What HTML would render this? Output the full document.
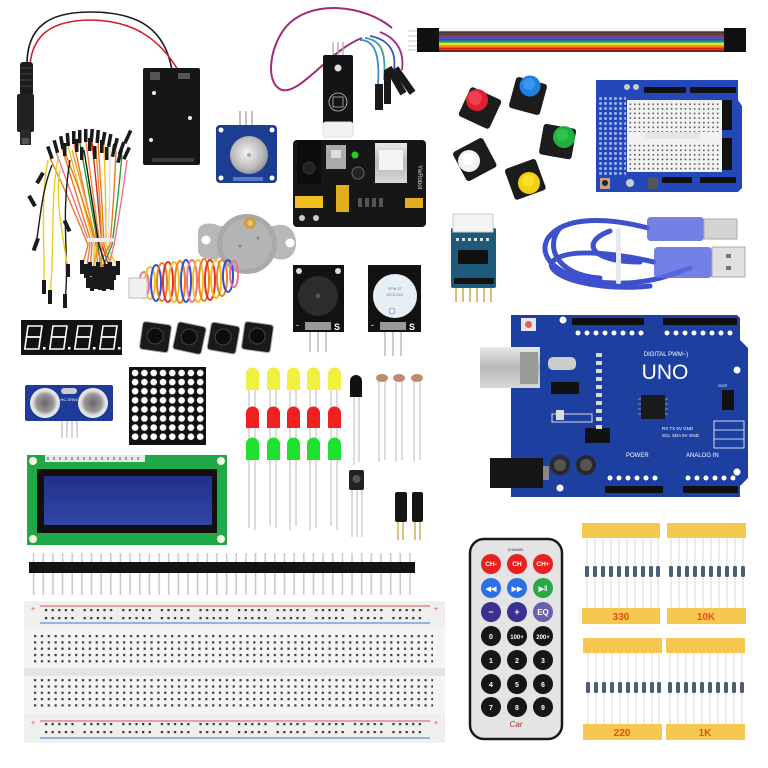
<!DOCTYPE html>
<html><head><meta charset="utf-8"><style>
html,body{margin:0;padding:0;background:#fff;}
svg{display:block;}
text{font-family:"Liberation Sans",sans-serif;}
</style></head><body>
<svg width="768" height="768" viewBox="0 0 768 768" xmlns="http://www.w3.org/2000/svg">
<defs>
  <pattern id="bbh" x="33" y="634" width="6.85" height="6.3" patternUnits="userSpaceOnUse"><rect x="1" y="1" width="2.2" height="2.2" fill="#3a3a3a"/></pattern>
  <pattern id="rail" x="45" y="609" width="38.6" height="8" patternUnits="userSpaceOnUse"><g fill="#333"><rect x="0" y="0" width="2.2" height="2.2"/><rect x="6.6" y="0" width="2.2" height="2.2"/><rect x="13.2" y="0" width="2.2" height="2.2"/><rect x="19.8" y="0" width="2.2" height="2.2"/><rect x="26.4" y="0" width="2.2" height="2.2"/></g></pattern>
  <pattern id="rail2" x="45" y="723" width="38.6" height="8" patternUnits="userSpaceOnUse"><g fill="#333"><rect x="0" y="0" width="2.2" height="2.2"/><rect x="6.6" y="0" width="2.2" height="2.2"/><rect x="13.2" y="0" width="2.2" height="2.2"/><rect x="19.8" y="0" width="2.2" height="2.2"/><rect x="26.4" y="0" width="2.2" height="2.2"/></g></pattern>
  <pattern id="mat" x="130.5" y="368.5" width="9.3" height="9.1" patternUnits="userSpaceOnUse"><circle cx="4.6" cy="4.5" r="3.3" fill="#fff"/></pattern>
  <pattern id="proto" x="628" y="102" width="4.6" height="4.6" patternUnits="userSpaceOnUse"><rect x="1.5" y="1.5" width="1.5" height="1.5" fill="#444"/></pattern>
  <pattern id="protob" x="598" y="96" width="5" height="5" patternUnits="userSpaceOnUse"><circle cx="2.5" cy="2.5" r="1.5" fill="#9fb4ee"/></pattern>
  <pattern id="pins" x="29" y="553" width="9.65" height="42" patternUnits="userSpaceOnUse"><rect x="3.8" y="0" width="1.6" height="42" fill="#c9c9c9"/></pattern>
  <radialGradient id="knob" cx="0.45" cy="0.45" r="0.6"><stop offset="0" stop-color="#f4f4f4"/><stop offset="0.7" stop-color="#b8b8b8"/><stop offset="1" stop-color="#8a8a8a"/></radialGradient>
  <radialGradient id="sonic" cx="0.5" cy="0.5" r="0.5"><stop offset="0" stop-color="#666"/><stop offset="0.6" stop-color="#9a9a9a"/><stop offset="0.8" stop-color="#ddd"/><stop offset="1" stop-color="#eee"/></radialGradient>
  <linearGradient id="lcd" x1="0" y1="0" x2="0" y2="1"><stop offset="0" stop-color="#22308a"/><stop offset="1" stop-color="#3246a6"/></linearGradient>
  <linearGradient id="silver" x1="0" y1="0" x2="0" y2="1"><stop offset="0" stop-color="#e8e8e8"/><stop offset="0.5" stop-color="#b8b8b8"/><stop offset="1" stop-color="#d8d8d8"/></linearGradient>
</defs>
<rect width="768" height="768" fill="#fff"/>

<!-- ===== Battery cable ===== -->
<path d="M27 62 C28 30 45 12 90 12 C140 12 165 30 172 70" fill="none" stroke="#1a1a1a" stroke-width="1.6"/>
<path d="M30 64 C33 36 50 20 92 20 C135 21 160 40 178 70" fill="none" stroke="#d02030" stroke-width="1.6"/>
<rect x="20" y="62" width="13" height="34" rx="3" fill="#1c1c1c"/>
<g stroke="#444" stroke-width="1"><line x1="20" y1="68" x2="33" y2="68"/><line x1="20" y1="74" x2="33" y2="74"/><line x1="20" y1="80" x2="33" y2="80"/><line x1="20" y1="86" x2="33" y2="86"/></g>
<rect x="17" y="94" width="17" height="38" rx="2" fill="#222"/>
<rect x="20" y="130" width="11" height="15" fill="#2a2a2a"/>
<rect x="22" y="138" width="7" height="6" fill="#555"/>
<!-- Battery box -->
<rect x="143" y="68" width="57" height="97" rx="2" fill="#161616"/>
<rect x="150" y="72" width="10" height="8" fill="#555"/>
<rect x="178" y="73" width="12" height="6" fill="#555"/>
<circle cx="154" cy="93" r="2" fill="#eee"/><circle cx="190" cy="118" r="2" fill="#eee"/><circle cx="151" cy="140" r="2" fill="#eee"/>
<rect x="152" y="158" width="42" height="4" fill="#3a3a3a"/>

<!-- ===== Jumper wire bundle ===== -->
<g fill="none" stroke-width="1.4">
<path d="M50 158 Q70 200 88 245 L82 268" stroke="#e87a1a"/>
<path d="M56 152 Q74 200 90 245 L86 272" stroke="#f07090"/>
<path d="M62 148 Q78 200 92 245 L90 270" stroke="#e87a1a"/>
<path d="M68 146 Q82 200 94 245 L94 274" stroke="#f0c020"/>
<path d="M74 144 Q86 200 96 245 L98 270" stroke="#e87a1a"/>
<path d="M80 143 Q90 200 98 245 L102 275" stroke="#2a9a3a"/>
<path d="M86 142 Q94 200 100 245 L106 272" stroke="#f08830"/>
<path d="M92 142 Q98 200 102 245 L110 270" stroke="#d03020"/>
<path d="M98 143 Q102 200 104 245 L114 274" stroke="#e87a1a"/>
<path d="M104 145 Q106 200 106 245 L118 268" stroke="#f0c020"/>
<path d="M110 148 Q110 200 108 245 L116 278" stroke="#ddd"/>
<path d="M116 151 Q114 200 110 245 L88 282" stroke="#e87a1a"/>
<path d="M122 155 Q118 200 112 245 L96 283" stroke="#2a9a3a"/>
<path d="M127 160 Q122 200 114 245 L104 284" stroke="#f07090"/>
<path d="M66 155 Q84 200 96 245 L108 285" stroke="#e87a1a"/>
<path d="M96 150 Q100 200 102 245 L100 285" stroke="#f08830"/>
<path d="M84 150 Q92 200 99 245 L112 285" stroke="#1a1a1a"/>
<path d="M72 150 Q86 200 97 245 L92 285" stroke="#f0a030"/>
<path d="M48 160 C40 200 45 250 44 285" stroke="#e8d020"/>
<path d="M58 158 C50 200 55 250 50 295" stroke="#e8d020"/>
<path d="M70 160 C60 220 70 260 65 300" stroke="#1a1a1a"/>
<path d="M52 165 C42 190 40 220 36 245" stroke="#1a1a1a"/>
<path d="M60 170 C55 200 62 230 68 270" stroke="#e8d020"/>
</g>
<g fill="#1a1a1a">
<rect x="48" y="146" width="3.5" height="13" transform="rotate(-20 50 152)"/>
<rect x="54" y="140" width="3.5" height="13" transform="rotate(-15 56 146)"/>
<rect x="60" y="136" width="3.5" height="13" transform="rotate(-10 62 142)"/>
<rect x="66" y="133" width="3.5" height="13" transform="rotate(-5 68 139)"/>
<rect x="72" y="131" width="3.5" height="13"/>
<rect x="78" y="130" width="3.5" height="13"/>
<rect x="84" y="129" width="3.5" height="13"/>
<rect x="90" y="129" width="3.5" height="13" transform="rotate(5 92 135)"/>
<rect x="96" y="130" width="3.5" height="13" transform="rotate(5 98 136)"/>
<rect x="102" y="132" width="3.5" height="13" transform="rotate(10 104 138)"/>
<rect x="108" y="134" width="3.5" height="13" transform="rotate(10 110 140)"/>
<rect x="114" y="138" width="3.5" height="13" transform="rotate(15 116 144)"/>
<rect x="120" y="142" width="3.5" height="13" transform="rotate(20 122 148)"/>
<rect x="125" y="147" width="3.5" height="13" transform="rotate(25 127 153)"/>
<rect x="63" y="143" width="3.5" height="13"/>
<rect x="75" y="139" width="3.5" height="13"/>
<rect x="88" y="138" width="3.5" height="13"/>
<rect x="100" y="140" width="3.5" height="13"/>
<rect x="112" y="144" width="3.5" height="13" transform="rotate(10 114 150)"/>
<rect x="118" y="150" width="3.5" height="13" transform="rotate(15 120 156)"/>
<rect x="105" y="147" width="3.5" height="13"/>
<rect x="93" y="146" width="3.5" height="13"/>
<rect x="80" y="147" width="3.5" height="13"/>
<rect x="126" y="130" width="3.5" height="14" transform="rotate(25 128 137)"/>
<rect x="80" y="260" width="4" height="14"/><rect x="84" y="264" width="4" height="14"/><rect x="88" y="262" width="4" height="14"/><rect x="92" y="266" width="4" height="14"/><rect x="96" y="262" width="4" height="14"/><rect x="100" y="267" width="4" height="14"/><rect x="104" y="264" width="4" height="14"/><rect x="108" y="262" width="4" height="14"/><rect x="112" y="266" width="4" height="14"/><rect x="116" y="261" width="4" height="14"/>
<rect x="86" y="274" width="4" height="14"/><rect x="94" y="275" width="4" height="14"/><rect x="98" y="276" width="4" height="14"/><rect x="102" y="277" width="4" height="14"/><rect x="106" y="275" width="4" height="14"/><rect x="110" y="276" width="4" height="14"/><rect x="90" y="277" width="4" height="14"/>
<rect x="42" y="280" width="4" height="14"/><rect x="48" y="290" width="4" height="14"/><rect x="63" y="294" width="4" height="14"/><rect x="34" y="238" width="4" height="13" transform="rotate(20 36 244)"/><rect x="66" y="264" width="4" height="13"/>
<rect x="38" y="172" width="4" height="12" transform="rotate(30 40 178)"/>
<rect x="65" y="220" width="4" height="12" transform="rotate(-25 67 226)"/>
<rect x="30" y="195" width="4" height="12" transform="rotate(-30 32 201)"/>
</g>
<rect x="87" y="238" width="27" height="4" fill="#f0f0f0"/>

<!-- ===== DHT sensor & wire ===== -->
<path d="M392 28 C365 5 310 -2 285 28 C268 50 266 85 282 90 C300 95 330 50 362 38" fill="none" stroke="#a02a78" stroke-width="2"/>
<path d="M360 40 C375 40 380 55 378 85" fill="none" stroke="#3a8ad0" stroke-width="1.8"/>
<path d="M365 38 C383 40 386 55 384 80" fill="none" stroke="#3aa090" stroke-width="1.8"/>
<path d="M370 36 C392 40 396 55 394 70" fill="none" stroke="#4050c0" stroke-width="1.8"/>
<path d="M380 32 C400 40 404 55 402 70" fill="none" stroke="#a02a78" stroke-width="1.8"/>
<g fill="#1a1a1a">
<rect x="375" y="84" width="8" height="26"/>
<rect x="384" y="70" width="7" height="34"/>
<rect x="392" y="66" width="7" height="30" transform="rotate(-30 395 80)"/>
<rect x="400" y="66" width="7" height="30" transform="rotate(-35 403 80)"/>
</g>
<g stroke="#aaa" stroke-width="1.3"><line x1="333" y1="42" x2="333" y2="56"/><line x1="338" y1="42" x2="338" y2="56"/><line x1="343" y1="42" x2="343" y2="56"/></g>
<rect x="323" y="55" width="30" height="69" rx="2" fill="#141414"/>
<circle cx="338" cy="68" r="3.5" fill="#ddd"/>
<circle cx="338" cy="102" r="9" fill="none" stroke="#ccc" stroke-width="0.8"/>
<rect x="333" y="97" width="10" height="10" fill="none" stroke="#bbb" stroke-width="0.8"/>
<rect x="323" y="122" width="30" height="15" rx="3" fill="#f2f2f2" stroke="#ddd"/>

<!-- ===== Potentiometer ===== -->
<g stroke="#aaa" stroke-width="1.5"><line x1="240" y1="111" x2="240" y2="128"/><line x1="246" y1="111" x2="246" y2="128"/><line x1="252" y1="111" x2="252" y2="128"/></g>
<rect x="216" y="125" width="61" height="58" rx="4" fill="#1c3d92"/>
<circle cx="221" cy="130" r="2.5" fill="#fff"/><circle cx="272" cy="130" r="2.5" fill="#fff"/><circle cx="221" cy="178" r="2.5" fill="#fff"/><circle cx="272" cy="178" r="2.5" fill="#fff"/>
<circle cx="249" cy="155" r="19" fill="url(#knob)"/>
<circle cx="249" cy="155" r="2" fill="#aaa"/>
<rect x="233" y="177" width="30" height="4" fill="#5a7ac8"/>

<!-- ===== Power supply module ===== -->
<rect x="293" y="140" width="133" height="87" rx="4" fill="#161616"/>
<rect x="297" y="140" width="24" height="44" fill="#0c0c0c"/>
<circle cx="309" cy="168" r="6" fill="#222" stroke="#333"/>
<rect x="326" y="145" width="20" height="24" fill="#aaa"/>
<rect x="331" y="150" width="10" height="8" fill="#ddd"/>
<circle cx="355" cy="155" r="3.5" fill="#2c2"/>
<circle cx="358" cy="173" r="6" fill="#222" stroke="#666"/>
<rect x="375" y="143" width="32" height="40" fill="url(#silver)"/>
<rect x="379" y="150" width="24" height="20" fill="#f4f4f4"/>
<rect x="295" y="196" width="28" height="12" fill="#f0c020"/>
<rect x="336" y="185" width="13" height="27" fill="#e0b020"/>
<rect x="405" y="198" width="18" height="10" fill="#e0b020"/>
<g fill="#555"><rect x="358" y="198" width="4" height="9"/><rect x="365" y="198" width="4" height="9"/><rect x="372" y="198" width="4" height="9"/><rect x="379" y="198" width="4" height="9"/></g>
<text x="418" y="165" font-size="6" fill="#ddd" transform="rotate(90 418 165)">YwRobot</text>
<circle cx="302" cy="218" r="3" fill="#ccc"/><circle cx="316" cy="218" r="3" fill="#ccc"/>

<!-- ===== Dupont ribbon ===== -->
<g>
<rect x="438" y="29" width="286" height="2.3" fill="#f4f4f4" stroke="#ddd" stroke-width="0.3"/>
<rect x="438" y="31.3" width="286" height="2.3" fill="#3a3a3a"/>
<rect x="438" y="33.6" width="286" height="2.3" fill="#6a3a1a"/>
<rect x="438" y="35.9" width="286" height="2.3" fill="#7a3aa0"/>
<rect x="438" y="38.2" width="286" height="2.3" fill="#2a4ad0"/>
<rect x="438" y="40.5" width="286" height="2.3" fill="#20a040"/>
<rect x="438" y="42.8" width="286" height="2.3" fill="#f0e020"/>
<rect x="438" y="45.1" width="286" height="2.3" fill="#f08a20"/>
<rect x="438" y="47.4" width="286" height="2.3" fill="#e02020"/>
<rect x="438" y="49.7" width="286" height="2.3" fill="#7a2a10"/>
<rect x="417" y="28" width="22" height="24" fill="#111"/>
<rect x="724" y="28" width="22" height="24" fill="#111"/>
<g stroke="#bbb" stroke-width="0.8"><line x1="408" y1="31" x2="417" y2="31"/><line x1="408" y1="36" x2="417" y2="36"/><line x1="408" y1="41" x2="417" y2="41"/><line x1="408" y1="46" x2="417" y2="46"/><line x1="408" y1="50" x2="417" y2="50"/></g>
</g>

<!-- ===== Button modules ===== -->
<g>
<rect x="463" y="92" width="34" height="32" rx="3" fill="#1c1c1c" transform="rotate(25 480 108)"/>
<circle cx="477" cy="100" r="11" fill="#e02030"/><circle cx="475" cy="98" r="7" fill="#f04050"/>
<rect x="512" y="80" width="32" height="32" rx="3" fill="#1c1c1c" transform="rotate(15 528 96)"/>
<circle cx="530" cy="86" r="10.5" fill="#2080e0"/><circle cx="529" cy="84" r="6" fill="#3a95f0"/>
<rect x="541" y="126" width="33" height="31" rx="3" fill="#1c1c1c" transform="rotate(10 557 142)"/>
<circle cx="564" cy="137" r="11" fill="#20b040"/><circle cx="562" cy="135" r="6" fill="#30c050"/>
<rect x="458" y="143" width="34" height="33" rx="3" fill="#1c1c1c" transform="rotate(-28 475 160)"/>
<circle cx="469" cy="161" r="11" fill="#f2f2f2"/><circle cx="468" cy="159" r="6" fill="#fff"/>
<rect x="509" y="163" width="33" height="33" rx="3" fill="#1c1c1c" transform="rotate(-20 525 180)"/>
<circle cx="529" cy="183" r="11" fill="#f0d010"/><circle cx="528" cy="181" r="6" fill="#f8e030"/>
</g>

<!-- ===== Protoshield ===== -->
<path d="M596 80 L738 80 L738 100 L742 106 L742 188 L738 192 L596 192 Z" fill="#2448b8"/>
<rect x="598" y="96" width="28" height="80" fill="url(#protob)"/>
<rect x="627" y="100" width="95" height="72" fill="#f2f2f2"/>
<rect x="628" y="102" width="93" height="30" fill="url(#proto)"/>
<rect x="628" y="142" width="93" height="28" fill="url(#proto)"/>
<rect x="645" y="132" width="55" height="7" fill="#e6e6e6"/>
<rect x="644" y="87" width="42" height="6" fill="#111"/>
<rect x="690" y="87" width="46" height="6" fill="#111"/>
<rect x="722" y="100" width="10" height="30" fill="#111"/>
<rect x="722" y="138" width="10" height="32" fill="#111"/>
<rect x="662" y="177" width="30" height="6" fill="#111"/>
<rect x="700" y="177" width="36" height="6" fill="#111"/>
<rect x="600" y="178" width="10" height="11" fill="#c8a080"/>
<circle cx="605" cy="183" r="3" fill="#222"/>
<rect x="648" y="178" width="10" height="11" fill="#555"/>
<circle cx="630" cy="183" r="4" fill="#ccc"/>
<circle cx="627" cy="87" r="3" fill="#ccc"/><circle cx="636" cy="87" r="3" fill="#ccc"/>

<!-- ===== ULN2003 driver board ===== -->
<g stroke="#c8a040" stroke-width="1.4">
<line x1="456" y1="286" x2="456" y2="302"/><line x1="463" y1="286" x2="463" y2="302"/><line x1="470" y1="286" x2="470" y2="302"/><line x1="477" y1="286" x2="477" y2="302"/><line x1="484" y1="286" x2="484" y2="302"/><line x1="491" y1="286" x2="491" y2="302"/>
</g>
<rect x="451" y="228" width="45" height="60" rx="2" fill="#1d5a7c"/>
<rect x="453" y="214" width="40" height="18" fill="#f4f4f4" stroke="#ccc"/>
<rect x="458" y="250" width="30" height="14" fill="#111"/>
<rect x="454" y="278" width="40" height="6" fill="#111"/>
<g fill="#ddd"><rect x="456" y="238" width="3" height="3"/><rect x="462" y="238" width="3" height="3"/><rect x="468" y="238" width="3" height="3"/><rect x="474" y="238" width="3" height="3"/><rect x="480" y="238" width="3" height="3"/><rect x="486" y="238" width="3" height="3"/></g>

<!-- ===== USB cable ===== -->
<g fill="none" stroke="#2a3ec8" stroke-width="5" stroke-linecap="round" opacity="0.9">
<path d="M648 228 C610 218 565 215 548 238 C535 260 565 282 615 283 C650 284 670 275 690 268"/>
<path d="M654 262 C610 252 565 248 552 262 C545 276 595 292 650 286"/>
<path d="M610 231 C580 242 590 262 640 262"/>
<path d="M560 228 C545 245 555 275 600 278"/>
</g>
<rect x="616" y="228" width="5" height="56" rx="2" fill="#e8e8f0"/>
<rect x="647" y="217" width="57" height="24" rx="4" fill="#5a6ae0" opacity="0.85"/>
<rect x="704" y="219" width="33" height="20" fill="#d4d4d4" stroke="#aaa"/>
<rect x="654" y="247" width="58" height="31" rx="4" fill="#5a6ae0" opacity="0.85"/>
<rect x="712" y="247" width="33" height="30" fill="#e0e0e0" stroke="#aaa"/>
<rect x="726" y="254" width="5" height="4" fill="#777"/><rect x="726" y="266" width="5" height="4" fill="#777"/>

<!-- ===== Stepper motor ===== -->
<path d="M198 232 C198 222 212 222 220 226 L274 226 C284 222 296 228 296 243 C296 258 284 262 274 258 L220 258 C210 262 198 258 198 250 Z" fill="#b8b8b8"/>
<circle cx="206" cy="240" r="4.5" fill="#fff"/><circle cx="290" cy="243" r="4.5" fill="#fff"/>
<circle cx="247" cy="244" r="30" fill="#a9a9a9"/>
<circle cx="247" cy="244" r="25" fill="#b4b4b4"/>
<circle cx="250" cy="223" r="6" fill="#c8a040"/><circle cx="250" cy="223" r="3" fill="#e8c860"/>
<circle cx="240" cy="246" r="1.5" fill="#888"/><circle cx="258" cy="238" r="1.5" fill="#888"/>
<g fill="none" stroke-width="2">
<ellipse cx="144" cy="285" rx="5" ry="13" stroke="#f07090"/>
<ellipse cx="150" cy="283" rx="5" ry="16" stroke="#f0c020"/>
<ellipse cx="156" cy="283" rx="5" ry="18" stroke="#3050d0"/>
<ellipse cx="162" cy="282" rx="5" ry="19" stroke="#f08020"/>
<ellipse cx="168" cy="282" rx="5" ry="20" stroke="#e03030"/>
<ellipse cx="174" cy="282" rx="5" ry="20" stroke="#f0c020"/>
<ellipse cx="180" cy="282" rx="5" ry="21" stroke="#f08020"/>
<ellipse cx="186" cy="281" rx="5" ry="21" stroke="#3050d0"/>
<ellipse cx="192" cy="281" rx="5" ry="21" stroke="#f07090"/>
<ellipse cx="198" cy="281" rx="5" ry="21" stroke="#f0c020"/>
<ellipse cx="204" cy="280" rx="5" ry="21" stroke="#f08020"/>
<ellipse cx="210" cy="280" rx="5" ry="20" stroke="#e03030"/>
<ellipse cx="216" cy="279" rx="5" ry="19" stroke="#f0c020"/>
<ellipse cx="222" cy="278" rx="5" ry="18" stroke="#f08020"/>
<ellipse cx="228" cy="276" rx="5" ry="16" stroke="#3050d0"/>
<ellipse cx="234" cy="274" rx="4" ry="13" stroke="#f07090"/>
</g>
<rect x="129" y="278" width="18" height="20" fill="#f0f0f0" stroke="#bbb"/>

<!-- ===== Buzzers ===== -->
<g stroke="#bbb" stroke-width="1.5"><line x1="310" y1="330" x2="310" y2="352"/><line x1="318" y1="330" x2="318" y2="352"/><line x1="326" y1="330" x2="326" y2="352"/>
<line x1="385" y1="330" x2="385" y2="356"/><line x1="393" y1="330" x2="393" y2="356"/><line x1="401" y1="330" x2="401" y2="356"/></g>
<rect x="293" y="265" width="51" height="67" fill="#121212"/>
<circle cx="318" cy="296" r="20" fill="#2c2c2c"/><circle cx="318" cy="296" r="2.5" fill="#555"/>
<circle cx="299" cy="271" r="3" fill="#ddd"/><circle cx="338" cy="271" r="3" fill="#ddd"/>
<rect x="305" y="322" width="26" height="8" fill="#999"/>
<text x="334" y="330" font-size="9" fill="#fff" font-weight="bold">S</text>
<rect x="368" y="265" width="53" height="67" fill="#121212"/>
<circle cx="395" cy="296" r="22" fill="#e6eef6"/>
<text x="395" y="290" font-size="4" fill="#6080b0" text-anchor="middle">SFM-27</text>
<text x="395" y="296" font-size="4" fill="#6080b0" text-anchor="middle">DC3-24V</text>
<circle cx="392" cy="311" r="3" fill="none" stroke="#6080b0" stroke-width="0.6"/>
<rect x="380" y="322" width="26" height="8" fill="#999"/>
<text x="409" y="330" font-size="9" fill="#fff" font-weight="bold">S</text>
<text x="371" y="328" font-size="9" fill="#fff">-</text>
<text x="296" y="328" font-size="9" fill="#fff">-</text>

<!-- ===== 7-segment ===== -->
<rect x="21" y="320" width="101" height="35" fill="#121212"/>
<g fill="none" stroke="#fff" stroke-width="1.6">
<g transform="translate(28,326) skewX(-8)"><rect x="0" y="0" width="14" height="11"/><rect x="0" y="11" width="14" height="12"/></g>
<g transform="translate(53,326) skewX(-8)"><rect x="0" y="0" width="14" height="11"/><rect x="0" y="11" width="14" height="12"/></g>
<g transform="translate(78,326) skewX(-8)"><rect x="0" y="0" width="14" height="11"/><rect x="0" y="11" width="14" height="12"/></g>
<g transform="translate(103,326) skewX(-8)"><rect x="0" y="0" width="14" height="11"/><rect x="0" y="11" width="14" height="12"/></g>
</g>
<g fill="#fff"><rect x="43" y="347" width="2.5" height="2.5"/><rect x="68" y="347" width="2.5" height="2.5"/><rect x="93" y="347" width="2.5" height="2.5"/><rect x="118" y="347" width="2.5" height="2.5"/></g>

<!-- ===== Tactile buttons ===== -->
<g>
<g transform="rotate(8 155 337)"><rect x="141" y="323" width="29" height="28" rx="3" fill="#1a1a1a" stroke="#aaa" stroke-width="1"/><circle cx="155" cy="336" r="8" fill="#0c0c0c" stroke="#444"/></g>
<g transform="rotate(12 189 338)"><rect x="175" y="324" width="29" height="28" rx="3" fill="#1a1a1a" stroke="#aaa" stroke-width="1"/><circle cx="189" cy="337" r="8" fill="#0c0c0c" stroke="#444"/></g>
<g transform="rotate(10 223 338)"><rect x="209" y="324" width="29" height="28" rx="3" fill="#1a1a1a" stroke="#aaa" stroke-width="1"/><circle cx="223" cy="337" r="8" fill="#0c0c0c" stroke="#444"/></g>
<g transform="rotate(8 257 337)"><rect x="243" y="323" width="29" height="28" rx="3" fill="#1a1a1a" stroke="#aaa" stroke-width="1"/><circle cx="257" cy="336" r="8" fill="#0c0c0c" stroke="#444"/></g>
</g>

<!-- ===== Ultrasonic ===== -->
<g stroke="#bbb" stroke-width="1.2"><line x1="62" y1="418" x2="62" y2="438"/><line x1="67" y1="418" x2="67" y2="438"/><line x1="72" y1="418" x2="72" y2="438"/><line x1="77" y1="418" x2="77" y2="438"/></g>
<rect x="25" y="385" width="88" height="36" rx="2" fill="#1e3a9a"/>
<circle cx="45" cy="403" r="15" fill="url(#sonic)"/>
<circle cx="93" cy="403" r="15" fill="url(#sonic)"/>
<rect x="61" y="388" width="16" height="6" rx="3" fill="#ccc"/>
<text x="69" y="401" font-size="4" fill="#fff" text-anchor="middle">HC-SR04</text>

<!-- ===== LED matrix ===== -->
<rect x="129" y="367" width="77" height="78" fill="#111"/>
<rect x="130.5" y="368.5" width="74.4" height="72.8" fill="url(#mat)"/>

<!-- ===== LEDs ===== -->
<g stroke="#c4c4c4" stroke-width="1.2">
<line x1="249" y1="390" x2="249" y2="528"/><line x1="255" y1="390" x2="255" y2="530"/>
<line x1="270" y1="390" x2="270" y2="526"/><line x1="276" y1="390" x2="276" y2="528"/>
<line x1="290" y1="390" x2="290" y2="530"/><line x1="296" y1="390" x2="296" y2="526"/>
<line x1="310" y1="390" x2="310" y2="530"/><line x1="316" y1="390" x2="316" y2="528"/>
<line x1="331" y1="390" x2="331" y2="526"/><line x1="337" y1="390" x2="337" y2="530"/>
<line x1="354" y1="396" x2="354" y2="465"/><line x1="359" y1="396" x2="359" y2="462"/>
<line x1="352" y1="490" x2="352" y2="537"/><line x1="357" y1="490" x2="357" y2="537"/><line x1="362" y1="490" x2="362" y2="537"/>
<line x1="379" y1="380" x2="379" y2="462"/><line x1="385" y1="380" x2="385" y2="460"/>
<line x1="396" y1="380" x2="396" y2="462"/><line x1="402" y1="380" x2="402" y2="460"/>
<line x1="414" y1="380" x2="414" y2="462"/><line x1="420" y1="380" x2="420" y2="460"/>
</g>
<g>
<path d="M246 390 L246 374 A6.5 6.5 0 0 1 259 374 L259 390 Z" fill="#f0f040"/>
<path d="M267 390 L267 374 A6.5 6.5 0 0 1 280 374 L280 390 Z" fill="#f0f040"/>
<path d="M287 390 L287 374 A6.5 6.5 0 0 1 300 374 L300 390 Z" fill="#f0f040"/>
<path d="M307 390 L307 374 A6.5 6.5 0 0 1 320 374 L320 390 Z" fill="#f0f040"/>
<path d="M328 390 L328 374 A6.5 6.5 0 0 1 341 374 L341 390 Z" fill="#f0f040"/>
<path d="M246 428 L246 413 A6.5 6.5 0 0 1 259 413 L259 428 Z" fill="#f02020"/>
<path d="M267 428 L267 413 A6.5 6.5 0 0 1 280 413 L280 428 Z" fill="#f02020"/>
<path d="M287 428 L287 413 A6.5 6.5 0 0 1 300 413 L300 428 Z" fill="#f02020"/>
<path d="M307 428 L307 413 A6.5 6.5 0 0 1 320 413 L320 428 Z" fill="#f02020"/>
<path d="M328 428 L328 413 A6.5 6.5 0 0 1 341 413 L341 428 Z" fill="#f02020"/>
<path d="M246 460 L246 444 A6.5 6.5 0 0 1 259 444 L259 460 Z" fill="#20e030"/>
<path d="M267 460 L267 444 A6.5 6.5 0 0 1 280 444 L280 460 Z" fill="#20e030"/>
<path d="M287 460 L287 444 A6.5 6.5 0 0 1 300 444 L300 460 Z" fill="#20e030"/>
<path d="M307 460 L307 444 A6.5 6.5 0 0 1 320 444 L320 460 Z" fill="#20e030"/>
<path d="M328 460 L328 444 A6.5 6.5 0 0 1 341 444 L341 460 Z" fill="#20e030"/>
<path d="M350 397 L350 381 A6 6 0 0 1 362 381 L362 397 Z" fill="#111"/>
<rect x="349" y="470" width="15" height="20" rx="2" fill="#222"/>
<circle cx="356.5" cy="479" r="4" fill="#555"/>
<ellipse cx="382" cy="378" rx="6" ry="4" fill="#c08a70"/>
<ellipse cx="399" cy="378" rx="6" ry="4" fill="#c08a70"/>
<ellipse cx="417" cy="378" rx="6" ry="4" fill="#c08a70"/>
</g>
<g stroke="#c8a040" stroke-width="1.3"><line x1="398" y1="520" x2="398" y2="540"/><line x1="403" y1="520" x2="403" y2="540"/><line x1="415" y1="520" x2="415" y2="540"/><line x1="420" y1="520" x2="420" y2="540"/></g>
<rect x="395" y="492" width="12" height="30" rx="2" fill="#151515"/>
<rect x="412" y="492" width="11" height="30" rx="2" fill="#151515"/>

<!-- ===== LCD ===== -->
<rect x="27" y="455" width="200" height="90" fill="#20a848"/>
<circle cx="33" cy="461" r="4" fill="#f4f4e0"/><circle cx="221" cy="461" r="4" fill="#f4f4e0"/><circle cx="33" cy="539" r="4" fill="#f4f4e0"/><circle cx="221" cy="539" r="4" fill="#f4f4e0"/>
<g fill="#e8e8e8"><rect x="45" y="455" width="100" height="7"/></g>
<g fill="#9a9a9a"><rect x="47" y="457" width="2" height="3"/><rect x="53" y="457" width="2" height="3"/><rect x="59" y="457" width="2" height="3"/><rect x="65" y="457" width="2" height="3"/><rect x="71" y="457" width="2" height="3"/><rect x="77" y="457" width="2" height="3"/><rect x="83" y="457" width="2" height="3"/><rect x="89" y="457" width="2" height="3"/><rect x="95" y="457" width="2" height="3"/><rect x="101" y="457" width="2" height="3"/><rect x="107" y="457" width="2" height="3"/><rect x="113" y="457" width="2" height="3"/><rect x="119" y="457" width="2" height="3"/><rect x="125" y="457" width="2" height="3"/><rect x="131" y="457" width="2" height="3"/><rect x="137" y="457" width="2" height="3"/></g>
<rect x="37" y="469" width="180" height="64" fill="#101010"/>
<rect x="44" y="476" width="168" height="49" fill="url(#lcd)"/>

<!-- ===== Pin header ===== -->
<rect x="29" y="553" width="386" height="42" fill="url(#pins)"/>
<rect x="29" y="562" width="386" height="11" fill="#141414"/>

<!-- ===== Breadboard ===== -->
<rect x="24" y="601" width="421" height="142" fill="#efefed"/>
<rect x="24" y="628" width="421" height="86" fill="#f4f4f2"/>
<line x1="40" y1="606" x2="430" y2="606" stroke="#e07080" stroke-width="1.2"/>
<line x1="40" y1="623" x2="430" y2="623" stroke="#5a90d0" stroke-width="1.2"/>
<line x1="40" y1="721" x2="430" y2="721" stroke="#e07080" stroke-width="1.2"/>
<line x1="40" y1="738" x2="430" y2="738" stroke="#5a90d0" stroke-width="1.2"/>
<rect x="45" y="609" width="385" height="12" fill="url(#rail)"/>
<rect x="45" y="723" width="385" height="12" fill="url(#rail2)"/>
<rect x="33" y="634" width="400" height="31" fill="url(#bbh)"/>
<rect x="24" y="668" width="421" height="8" fill="#e4e4e2"/>
<rect x="33" y="679" width="400" height="31" fill="url(#bbh)"/>
<text x="31" y="611" font-size="7" fill="#d04050">+</text>
<text x="434" y="611" font-size="7" fill="#d04050">+</text>
<text x="31" y="725" font-size="7" fill="#d04050">+</text>
<text x="434" y="725" font-size="7" fill="#d04050">+</text>

<!-- ===== Arduino UNO ===== -->
<path d="M511 315 L737 315 L740 318 L740 340 L748 348 L748 478 L740 486 L740 497 L511 497 Z" fill="#1d3fa0"/>
<rect x="572" y="318" width="72" height="7" fill="#0e0e0e"/>
<rect x="663" y="318" width="74" height="7" fill="#0e0e0e"/>
<rect x="605" y="486" width="58" height="7" fill="#0e0e0e"/>
<rect x="683" y="486" width="55" height="7" fill="#0e0e0e"/>
<rect x="521" y="318" width="15" height="13" fill="#e8e8e8"/>
<circle cx="528.5" cy="324.5" r="3.5" fill="#e06060"/>
<rect x="480" y="347" width="60" height="41" fill="url(#silver)"/>
<rect x="520" y="352" width="18" height="32" fill="#9a9a9a"/>
<rect x="490" y="458" width="53" height="30" fill="#161616"/>
<rect x="543" y="466" width="6" height="14" fill="#888"/>
<circle cx="560" cy="465" r="10" fill="#2a2a2a"/><circle cx="560" cy="465" r="6" fill="#555"/>
<circle cx="586" cy="465" r="10" fill="#2a2a2a"/><circle cx="586" cy="465" r="6" fill="#555"/>
<rect x="548" y="357" width="28" height="13" rx="5" fill="#ccc"/>
<rect x="551" y="382" width="28" height="12" fill="#111"/>
<rect x="585" y="428" width="25" height="15" fill="#111"/>
<rect x="556" y="410" width="8" height="10" fill="#ddd"/>
<rect x="552" y="414" width="40" height="8" fill="none" stroke="#ddd" stroke-width="1"/>
<g fill="#d8d8d8"><rect x="596" y="353" width="6" height="4"/><rect x="596" y="361" width="6" height="4"/><rect x="596" y="369" width="6" height="4"/><rect x="596" y="377" width="6" height="4"/><rect x="596" y="385" width="6" height="4"/><rect x="596" y="393" width="6" height="4"/><rect x="596" y="401" width="6" height="4"/><rect x="596" y="409" width="6" height="4"/><rect x="596" y="417" width="6" height="4"/><rect x="596" y="425" width="6" height="4"/></g>
<g fill="#fff"><circle cx="578" cy="333" r="2.5"/><circle cx="587" cy="333" r="2.5"/><circle cx="596" cy="333" r="2.5"/><circle cx="605" cy="333" r="2.5"/><circle cx="614" cy="333" r="2.5"/><circle cx="623" cy="333" r="2.5"/><circle cx="632" cy="333" r="2.5"/><circle cx="641" cy="333" r="2.5"/><circle cx="667" cy="333" r="2.5"/><circle cx="676" cy="333" r="2.5"/><circle cx="685" cy="333" r="2.5"/><circle cx="694" cy="333" r="2.5"/><circle cx="703" cy="333" r="2.5"/><circle cx="712" cy="333" r="2.5"/><circle cx="721" cy="333" r="2.5"/><circle cx="730" cy="333" r="2.5"/>
<circle cx="610" cy="478" r="2.5"/><circle cx="619" cy="478" r="2.5"/><circle cx="628" cy="478" r="2.5"/><circle cx="637" cy="478" r="2.5"/><circle cx="646" cy="478" r="2.5"/><circle cx="655" cy="478" r="2.5"/><circle cx="688" cy="478" r="2.5"/><circle cx="697" cy="478" r="2.5"/><circle cx="706" cy="478" r="2.5"/><circle cx="715" cy="478" r="2.5"/><circle cx="724" cy="478" r="2.5"/><circle cx="733" cy="478" r="2.5"/>
<circle cx="563" cy="320" r="3.5"/><circle cx="737" cy="370" r="3.5"/><circle cx="737" cy="472" r="3.5"/><circle cx="560" cy="488" r="3.5"/></g>
<rect x="641" y="395" width="24" height="24" fill="#1a1a1a"/>
<g stroke="#aaa" stroke-width="0.8"><line x1="638" y1="399" x2="641" y2="399"/><line x1="638" y1="404" x2="641" y2="404"/><line x1="638" y1="409" x2="641" y2="409"/><line x1="638" y1="414" x2="641" y2="414"/><line x1="665" y1="399" x2="668" y2="399"/><line x1="665" y1="404" x2="668" y2="404"/><line x1="665" y1="409" x2="668" y2="409"/><line x1="665" y1="414" x2="668" y2="414"/></g>
<text x="665" y="379" font-size="21" fill="#fff" text-anchor="middle">UNO</text>
<text x="666" y="356" font-size="6" fill="#fff" text-anchor="middle">DIGITAL PWM~)</text>
<text x="626" y="457" font-size="6" fill="#fff">POWER</text>
<text x="686" y="457" font-size="6" fill="#fff">ANALOG IN</text>
<text x="718" y="387" font-size="4" fill="#fff">ISCP</text>
<rect x="722" y="390" width="12" height="20" fill="#111"/>
<g fill="none" stroke="#fff" stroke-width="0.8"><rect x="714" y="421" width="30" height="27"/><line x1="714" y1="430" x2="744" y2="430"/><line x1="714" y1="439" x2="744" y2="439"/></g>
<text x="662" y="430" font-size="4.5" fill="#fff">RX  TX  5V  GND</text>
<text x="662" y="437" font-size="4.5" fill="#fff">SCL SDA 5V GND</text>

<!-- ===== IR Remote ===== -->
<rect x="470" y="539" width="92" height="200" rx="14" fill="#e4e4e4" stroke="#1a1a1a" stroke-width="2.5"/>
<text x="516" y="551" font-size="3.5" fill="#333" text-anchor="middle">CHANNEL</text>
<g>
<circle cx="491" cy="564" r="10" fill="#e82020"/><circle cx="517" cy="564" r="10" fill="#e82020"/><circle cx="543" cy="564" r="10" fill="#e82020"/>
<circle cx="491" cy="588" r="10" fill="#2a70e8"/><circle cx="517" cy="588" r="10" fill="#2a70e8"/><circle cx="543" cy="588" r="10" fill="#28a848"/>
<circle cx="491" cy="612" r="10" fill="#3a3090"/><circle cx="517" cy="612" r="10" fill="#3a3090"/><circle cx="543" cy="612" r="10" fill="#6a60b0"/>
<circle cx="491" cy="636" r="10" fill="#161616"/><circle cx="517" cy="636" r="10" fill="#161616"/><circle cx="543" cy="636" r="10" fill="#161616"/>
<circle cx="491" cy="660" r="10" fill="#161616"/><circle cx="517" cy="660" r="10" fill="#161616"/><circle cx="543" cy="660" r="10" fill="#161616"/>
<circle cx="491" cy="684" r="10" fill="#161616"/><circle cx="517" cy="684" r="10" fill="#161616"/><circle cx="543" cy="684" r="10" fill="#161616"/>
<circle cx="491" cy="707" r="10" fill="#161616"/><circle cx="517" cy="707" r="10" fill="#161616"/><circle cx="543" cy="707" r="10" fill="#161616"/>
</g>
<g fill="#fff" font-size="6.5" text-anchor="middle" font-weight="bold">
<text x="491" y="566">CH-</text><text x="517" y="566">CH</text><text x="543" y="566">CH+</text>
<text x="491" y="591" font-family="DejaVu Sans" font-size="7">◀◀</text><text x="517" y="591" font-family="DejaVu Sans" font-size="7">▶▶</text><text x="543" y="591" font-family="DejaVu Sans" font-size="7">▶‖</text>
<text x="491" y="615" font-size="9">−</text><text x="517" y="615" font-size="9">+</text><text x="543" y="615" font-size="8">EQ</text>
<text x="491" y="639" font-size="7">0</text><text x="517" y="639" font-size="6">100+</text><text x="543" y="639" font-size="6">200+</text>
<text x="491" y="663" font-size="7">1</text><text x="517" y="663" font-size="7">2</text><text x="543" y="663" font-size="7">3</text>
<text x="491" y="687" font-size="7">4</text><text x="517" y="687" font-size="7">5</text><text x="543" y="687" font-size="7">6</text>
<text x="491" y="710" font-size="7">7</text><text x="517" y="710" font-size="7">8</text><text x="543" y="710" font-size="7">9</text>
</g>
<text x="516" y="727" font-size="8" fill="#b03030" text-anchor="middle" font-style="italic">Car</text>

<!-- ===== Resistor packs ===== -->
<g>
<rect x="582" y="523" width="78" height="15" fill="#f6c850"/>
<rect x="582" y="608" width="78" height="16" fill="#f6c850"/>
<text x="621" y="620" font-size="10" fill="#e05018" text-anchor="middle" font-weight="bold">330</text>
<rect x="667" y="523" width="79" height="15" fill="#f6c850"/>
<rect x="667" y="608" width="79" height="16" fill="#f6c850"/>
<text x="706" y="620" font-size="10" fill="#e05018" text-anchor="middle" font-weight="bold">10K</text>
<rect x="583" y="638" width="79" height="15" fill="#f6c850"/>
<rect x="583" y="724" width="79" height="16" fill="#f6c850"/>
<text x="622" y="736" font-size="10" fill="#e05018" text-anchor="middle" font-weight="bold">220</text>
<rect x="666" y="638" width="79" height="15" fill="#f6c850"/>
<rect x="666" y="724" width="79" height="16" fill="#f6c850"/>
<text x="705" y="736" font-size="10" fill="#e05018" text-anchor="middle" font-weight="bold">1K</text>
</g>
<g stroke="#d4d4d4" stroke-width="0.9">
<line x1="587" y1="538" x2="587" y2="608"/><line x1="595" y1="538" x2="595" y2="608"/><line x1="603" y1="538" x2="603" y2="608"/><line x1="611" y1="538" x2="611" y2="608"/><line x1="619" y1="538" x2="619" y2="608"/><line x1="627" y1="538" x2="627" y2="608"/><line x1="635" y1="538" x2="635" y2="608"/><line x1="643" y1="538" x2="643" y2="608"/><line x1="651" y1="538" x2="651" y2="608"/><line x1="658" y1="538" x2="658" y2="608"/>
<line x1="671" y1="538" x2="671" y2="608"/><line x1="679" y1="538" x2="679" y2="608"/><line x1="687" y1="538" x2="687" y2="608"/><line x1="695" y1="538" x2="695" y2="608"/><line x1="703" y1="538" x2="703" y2="608"/><line x1="711" y1="538" x2="711" y2="608"/><line x1="719" y1="538" x2="719" y2="608"/><line x1="727" y1="538" x2="727" y2="608"/><line x1="735" y1="538" x2="735" y2="608"/><line x1="743" y1="538" x2="743" y2="608"/>
<line x1="588" y1="653" x2="588" y2="724"/><line x1="596" y1="653" x2="596" y2="724"/><line x1="604" y1="653" x2="604" y2="724"/><line x1="612" y1="653" x2="612" y2="724"/><line x1="620" y1="653" x2="620" y2="724"/><line x1="628" y1="653" x2="628" y2="724"/><line x1="636" y1="653" x2="636" y2="724"/><line x1="644" y1="653" x2="644" y2="724"/><line x1="652" y1="653" x2="652" y2="724"/><line x1="659" y1="653" x2="659" y2="724"/>
<line x1="670" y1="653" x2="670" y2="724"/><line x1="678" y1="653" x2="678" y2="724"/><line x1="686" y1="653" x2="686" y2="724"/><line x1="694" y1="653" x2="694" y2="724"/><line x1="702" y1="653" x2="702" y2="724"/><line x1="710" y1="653" x2="710" y2="724"/><line x1="718" y1="653" x2="718" y2="724"/><line x1="726" y1="653" x2="726" y2="724"/><line x1="734" y1="653" x2="734" y2="724"/><line x1="742" y1="653" x2="742" y2="724"/>
</g>
<g fill="#4a6078">
<rect x="585" y="566" width="4" height="11" rx="1.5"/><rect x="593" y="566" width="4" height="11" rx="1.5"/><rect x="601" y="566" width="4" height="11" rx="1.5"/><rect x="609" y="566" width="4" height="11" rx="1.5"/><rect x="617" y="566" width="4" height="11" rx="1.5"/><rect x="625" y="566" width="4" height="11" rx="1.5"/><rect x="633" y="566" width="4" height="11" rx="1.5"/><rect x="641" y="566" width="4" height="11" rx="1.5"/><rect x="649" y="566" width="4" height="11" rx="1.5"/><rect x="656" y="566" width="4" height="11" rx="1.5"/>
<rect x="669" y="566" width="4" height="11" rx="1.5"/><rect x="677" y="566" width="4" height="11" rx="1.5"/><rect x="685" y="566" width="4" height="11" rx="1.5"/><rect x="693" y="566" width="4" height="11" rx="1.5"/><rect x="701" y="566" width="4" height="11" rx="1.5"/><rect x="709" y="566" width="4" height="11" rx="1.5"/><rect x="717" y="566" width="4" height="11" rx="1.5"/><rect x="725" y="566" width="4" height="11" rx="1.5"/><rect x="733" y="566" width="4" height="11" rx="1.5"/><rect x="741" y="566" width="4" height="11" rx="1.5"/>
<rect x="586" y="682" width="4" height="11" rx="1.5"/><rect x="594" y="682" width="4" height="11" rx="1.5"/><rect x="602" y="682" width="4" height="11" rx="1.5"/><rect x="610" y="682" width="4" height="11" rx="1.5"/><rect x="618" y="682" width="4" height="11" rx="1.5"/><rect x="626" y="682" width="4" height="11" rx="1.5"/><rect x="634" y="682" width="4" height="11" rx="1.5"/><rect x="642" y="682" width="4" height="11" rx="1.5"/><rect x="650" y="682" width="4" height="11" rx="1.5"/><rect x="657" y="682" width="4" height="11" rx="1.5"/>
<rect x="668" y="682" width="4" height="11" rx="1.5"/><rect x="676" y="682" width="4" height="11" rx="1.5"/><rect x="684" y="682" width="4" height="11" rx="1.5"/><rect x="692" y="682" width="4" height="11" rx="1.5"/><rect x="700" y="682" width="4" height="11" rx="1.5"/><rect x="708" y="682" width="4" height="11" rx="1.5"/><rect x="716" y="682" width="4" height="11" rx="1.5"/><rect x="724" y="682" width="4" height="11" rx="1.5"/><rect x="732" y="682" width="4" height="11" rx="1.5"/><rect x="740" y="682" width="4" height="11" rx="1.5"/>
</g>
</svg>
</body></html>
